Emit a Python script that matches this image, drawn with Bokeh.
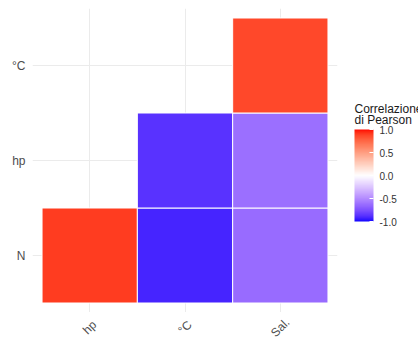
import numpy as np
from math import pi

from bokeh.plotting import figure
from bokeh.layouts import row, column
from bokeh.core.properties import value
from bokeh.models import (ColumnDataSource, FactorRange, Range1d, LinearColorMapper, ColorBar,
                          FixedTicker, PrintfTickFormatter, Label)
from bokeh.transform import transform
from bokeh.embed import file_html
from bokeh.resources import INLINE

# --- data -----------------------------------------------------------------
x_vars = ["hp", "°C", "Sal."]
y_vars = ["N", "hp", "°C"]
cell_x = ["hp", "°C", "Sal.", "°C", "Sal.", "Sal."]
cell_y = ["N", "N", "N", "hp", "hp", "°C"]
pearson_r = [0.90, -0.92, -0.64, -0.87, -0.62, 0.86]
legend_ticks = [-1.0, -0.5, 0.0, 0.5, 1.0]
legend_title = ["Correlazione", "di Pearson"]

# --- diverging blue-white-red palette, interpolated in CIE Lab -------------
_M = np.array([[0.4124, 0.3576, 0.1805],
               [0.2126, 0.7152, 0.0722],
               [0.0193, 0.1192, 0.9505]])
_WHITE = _M @ np.ones(3)


def _to_lin(c):
    c = np.asarray(c, float) / 255.0
    return np.where(c <= 0.04045, c / 12.92, ((c + 0.055) / 1.055) ** 2.4)


def _from_lin(c):
    c = np.clip(c, 0, 1)
    return np.where(c <= 0.0031308, 12.92 * c, 1.055 * c ** (1 / 2.4) - 0.055) * 255


def rgb_to_lab(rgb):
    xyz = (_M @ _to_lin(rgb)) / _WHITE
    d = 6 / 29
    f = np.where(xyz > d ** 3, np.cbrt(xyz), xyz / (3 * d * d) + 4 / 29)
    return np.array([116 * f[1] - 16, 500 * (f[0] - f[1]), 200 * (f[1] - f[2])])


def lab_to_hex(lab):
    L, a, b = lab
    fy = (L + 16) / 116
    f = np.array([fy + a / 500, fy, fy - b / 200])
    d = 6 / 29
    xyz = np.where(f > d, f ** 3, 3 * d * d * (f - 4 / 29)) * _WHITE
    rgb = np.round(_from_lin(np.linalg.solve(_M, xyz))).astype(int)
    return "#%02x%02x%02x" % tuple(rgb)


lab_low = rgb_to_lab([0, 0, 255])
lab_mid = rgb_to_lab([255, 255, 255])
lab_high = rgb_to_lab([255, 0, 0])

palette = []
for v in np.linspace(-1, 1, 256):
    end = lab_low if v < 0 else lab_high
    palette.append(lab_to_hex(lab_mid + (end - lab_mid) * abs(v)))

mapper = LinearColorMapper(palette=palette, low=-1, high=1)

source = ColumnDataSource(dict(x=cell_x, y=cell_y, r=pearson_r))

FONT = "Liberation Sans"
AXIS_GREY = "#4D4D4D"

# --- heatmap panel ------------------------------------------------------------
x_range = FactorRange(factors=x_vars, range_padding=0.1, range_padding_units="absolute")
y_range = FactorRange(factors=y_vars, range_padding=0.1, range_padding_units="absolute")

p = figure(
    width=340, height=312, x_range=x_range, y_range=y_range,
    output_backend="svg", toolbar_location=None,
    min_border_left=32, min_border_right=3, min_border_top=8, min_border_bottom=0,
)
p.outline_line_color = None
p.background_fill_color = "white"
p.border_fill_color = "white"

p.rect(x="x", y="y", width=1, height=1, source=source,
       fill_color=transform("r", mapper), line_color="white", line_width=1)

p.grid.grid_line_color = "#EBEBEB"
p.grid.grid_line_width = 1

p.xaxis.visible = False
p.yaxis.axis_line_color = None
p.yaxis.major_tick_line_color = None
p.yaxis.minor_tick_line_color = None
p.yaxis.major_tick_in = 0
p.yaxis.major_tick_out = 0
p.yaxis.major_label_standoff = 7
p.yaxis.major_label_text_font = FONT
p.yaxis.major_label_text_font_size = "12px"
p.yaxis.major_label_text_color = AXIS_GREY

# --- strip below the panel with the rotated column labels ---------------------
strip = figure(
    width=340, height=26, x_range=x_range, y_range=Range1d(0, 26),
    output_backend="svg", toolbar_location=None,
    x_axis_location=None, y_axis_location=None,
    min_border_left=32, min_border_right=3, min_border_top=0, min_border_bottom=0,
)
strip.outline_line_color = None
strip.grid.visible = False
strip.text(x=x_vars, y=[11] * len(x_vars), text=x_vars, angle=pi / 4,
           text_align="center", text_baseline="middle",
           text_font=value(FONT), text_font_size="12px", text_color=AXIS_GREY)

# --- colour bar legend ----------------------------------------------------------
leg = figure(
    width=78, height=338, x_range=Range1d(0, 78), y_range=Range1d(0, 338),
    output_backend="svg", toolbar_location=None,
    x_axis_location=None, y_axis_location=None,
    min_border_left=0, min_border_right=0, min_border_top=0, min_border_bottom=0,
)
leg.outline_line_color = None
leg.grid.visible = False

cbar = ColorBar(
    color_mapper=mapper, ticker=FixedTicker(ticks=legend_ticks),
    formatter=PrintfTickFormatter(format="%.1f"),
    width=19, height=92, location=(14, 117), padding=0, margin=0,
    bar_line_color=None, border_line_color=None, background_fill_alpha=0,
    major_tick_line_color="white", major_tick_in=4, major_tick_out=0,
    minor_tick_line_color=None,
    major_label_text_font=FONT, major_label_text_font_size="10px",
    major_label_text_color="#333333", label_standoff=6,
)
leg.add_layout(cbar, "center")

for i, line in enumerate(legend_title):
    leg.add_layout(Label(
        x=14, y=230 - 11 * i, x_units="screen", y_units="screen",
        text=line, text_align="left", text_baseline="alphabetic",
        text_font=FONT, text_font_size="12px", text_color="#1A1A1A",
    ))

layout = row(column(p, strip, spacing=0), leg, spacing=0)

open("out.html", "w").write(file_html(layout, INLINE))
